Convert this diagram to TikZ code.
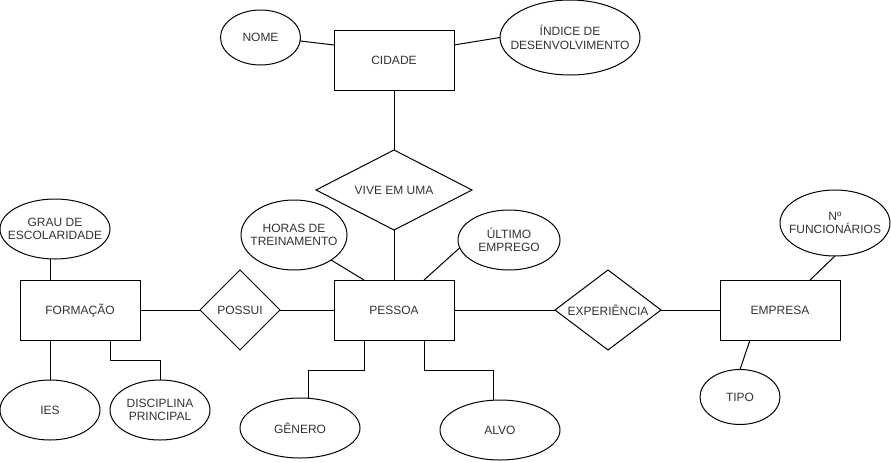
\documentclass[tikz,border=0pt]{standalone}
\usepackage{fontspec}
\setmainfont{Liberation Sans}
\usetikzlibrary{shapes.geometric}
\definecolor{textgrey}{RGB}{51,51,51}

\begin{document}
\begin{tikzpicture}[x=1pt,y=-1pt,line width=1pt,
    every node/.style={font=\fontsize{12}{13.5}\selectfont, text=textgrey, align=center, outer sep=0pt},
    entitybox/.style={draw, rectangle, minimum width=120pt, minimum height=60pt, inner sep=0pt},
    attribute/.style={draw, ellipse, inner xsep=-12pt, inner ysep=0pt},
    relation/.style={draw, diamond, inner sep=0pt}]
    \useasboundingbox (0,0) rectangle (891,461);

    % Cidade
    \node[entitybox] (cidade) at (394,60) {CIDADE};
    \node[attribute, minimum width=80pt, minimum height=55pt] (nome) at (260.5,37.5) {NOME};
    \node[attribute, minimum width=140pt, minimum height=75pt] (indice) at (570,37.5) {ÍNDICE DE\\DESENVOLVIMENTO};
    \draw (nome.-5) -- ([yshift=-15pt]cidade.north west);
    \draw ([yshift=-15pt]cidade.north east) -- (indice.west);

    % Vive em uma
    \node[relation, shape aspect=1.95, minimum width=156pt, minimum height=80pt] (vive) at (394,190) {VIVE EM UMA};
    \draw (cidade.south) -- (vive.north);

    % Pessoa
    \node[entitybox] (pessoa) at (394,310) {PESSOA};
    \node[attribute, minimum width=106pt, minimum height=70pt] (horas) at (294,235) {HORAS DE\\TREINAMENTO};
    \node[attribute, minimum width=102pt, minimum height=60pt] (ultimo) at (509,240) {ÚLTIMO\\EMPREGO};
    \node[attribute, minimum width=120pt, minimum height=60pt] (genero) at (300,428) {GÊNERO};
    \node[attribute, minimum width=120pt, minimum height=60pt] (alvo) at (500,430) {ALVO};
    \draw (vive.south) -- (pessoa.north);
    \draw (horas.-34) -- ([xshift=30pt]pessoa.north west);
    \draw (ultimo.189) -- ([xshift=-30pt]pessoa.north east);
    \draw ([xshift=30pt]pessoa.south west) -- ++(0,30) -| ([xshift=8pt]genero.north);
    \draw ([xshift=-30pt]pessoa.south east) -- ++(0,30) -| ([xshift=-7pt]alvo.north);

    % Formacao
    \node[relation, minimum width=80pt, minimum height=80pt] (possui) at (240,310) {POSSUI};
    \node[entitybox] (formacao) at (80,310) {FORMAÇÃO};
    \node[attribute, minimum width=110pt, minimum height=60pt] (grau) at (55,229) {GRAU DE\\ESCOLARIDADE};
    \node[attribute, minimum width=100pt, minimum height=60pt] (ies) at (50,410) {IES};
    \node[attribute, minimum width=100pt, minimum height=60pt] (disciplina) at (160,410) {DISCIPLINA\\PRINCIPAL};
    \draw (pessoa.west) -- (possui.east);
    \draw (possui.west) -- (formacao.east);
    \draw (grau.south) ++(-5,0) -- ([xshift=30pt]formacao.north west);
    \draw ([xshift=30pt]formacao.south west) -- (ies.north);
    \draw ([xshift=-30pt]formacao.south east) -- ++(0,20) -| (disciplina.north);

    % Empresa
    \node[relation, shape aspect=1.325, minimum width=106pt, minimum height=80pt] (experiencia) at (608,310) {EXPERIÊNCIA};
    \node[entitybox] (empresa) at (780,310) {EMPRESA};
    \node[attribute, minimum width=110pt, minimum height=66pt] (nfunc) at (835,223) {Nº\\FUNCIONÁRIOS};
    \node[attribute, minimum width=80pt, minimum height=55pt] (tipo) at (740,397) {TIPO};
    \draw (pessoa.east) -- (experiencia.west);
    \draw (experiencia.east) -- (empresa.west);
    \draw (nfunc.south) -- ([xshift=-30pt]empresa.north east);
    \draw ([xshift=-30pt]empresa.south) -- (tipo.north);
\end{tikzpicture}
\end{document}
